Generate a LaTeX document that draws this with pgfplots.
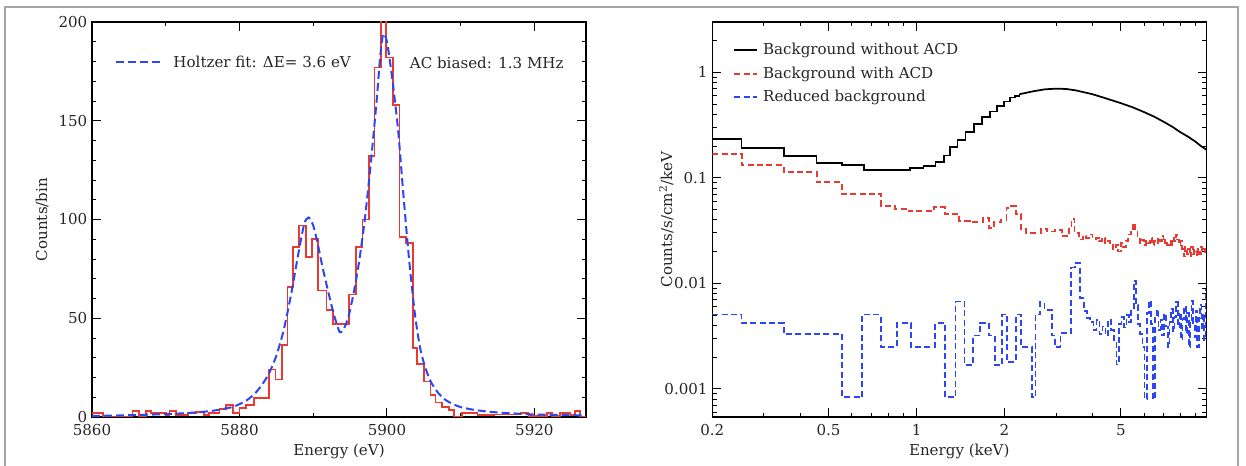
\documentclass[border=0pt]{standalone}
\usepackage{fontspec}
\setmainfont{DejaVu Serif}
\usepackage{pgfplots}
\pgfplotsset{compat=1.18}

\definecolor{histred}{RGB}{232,58,48}
\definecolor{fitblue}{RGB}{45,70,245}
\definecolor{framegray}{RGB}{165,165,165}
\newcommand\ff{\fontsize{11.3}{13.5}\selectfont}

\pgfplotsset{
  panel/.style={
    scale only axis, width=370.5pt, height=296.25pt, anchor=south west,
    tick align=inside, major tick length=6.5pt, minor tick length=3.3pt,
    every tick/.style={black, line width=0.7pt},
    axis line style={line width=0.9pt},
    tick label style={font=\ff, text=black!85},
    label style={font=\ff, text=black!85},
    /pgf/number format/assume math mode=true,
    /pgf/number format/1000 sep={},
    legend style={font=\ff, draw=none, fill=none, inner sep=0pt, text=black!85},
    legend cell align=left,
  }
}

\begin{document}
\begin{tikzpicture}
\path[use as bounding box] (0,0) rectangle (934.5pt,349.5pt);
\draw[framegray, line width=1.5pt] (3.75pt,0pt) -- (3.75pt,344.25pt) -- (928.5pt,344.25pt) -- (928.5pt,0pt);

% left panel: Mn K-alpha line
\begin{axis}[panel, at={(69pt,36.75pt)},
  xmin=5860, xmax=5927, ymin=0, ymax=200,
  xtick={5860,5880,5900,5920}, minor x tick num=1,
  ytick={0,50,100,150,200}, minor y tick num=4,
  xlabel={Energy (eV)}, ylabel={Counts/bin},
  x label style={at={(axis description cs:0.5,-0.087)}, anchor=center},
  y label style={at={(axis description cs:-0.101,0.5)}, anchor=center},
  xticklabel style={yshift=-2pt},
  legend style={at={(0.047,0.8975)}, anchor=west},
  legend image code/.code={\draw[#1] (0pt,0pt) -- (34pt,0pt); \path (40pt,0pt);},
]
\addplot[histred, line width=1.3pt, const plot, forget plot] coordinates {
(5860,2) (5861.5,0.3) (5865.5,3) (5866.4,0.3) (5867.3,3) (5868.0,2) (5870.0,1)
(5870.5,3) (5871.4,1) (5873.0,2) (5874.1,2.5) (5875.2,1) (5875.9,2) (5877.3,4)
(5878.2,6) (5879.1,2) (5880.0,4.5) (5880.9,6) (5882.0,9.5) (5884.0,24) (5884.9,19)
(5885.8,36.5) (5886.5,66) (5887.3,86) (5888.1,97) (5889.0,81) (5889.8,90)
(5890.7,64) (5891.8,54) (5892.7,47) (5894.9,62) (5895.8,86) (5896.7,100)
(5897.6,132) (5898.3,177) (5899.2,215) (5899.9,182) (5900.8,158) (5901.7,91)
(5902.6,88) (5903.5,35) (5904.1,27) (5905.0,18) (5905.9,11) (5906.6,7.4)
(5907.5,5.2) (5908.4,3.5) (5909.1,0.3) (5910.2,2) (5912.3,1) (5914.5,1.3)
(5918.1,2) (5919.2,0.5) (5921.7,2) (5922.4,0.5) (5923.5,2) (5924.9,1)
(5925.5,3) (5926.2,0.3) (5927,0.3)
};
\addplot[fitblue, line width=1.5pt, dash pattern=on 6pt off 3pt, smooth, tension=0.4] coordinates {
(5860,0.5) (5864,0.8) (5868,1.2) (5872,1.8) (5875,2.6) (5877,3.5) (5879,5)
(5880,6.5) (5881,8.5) (5882,11.5) (5883,16) (5884,22) (5885,31) (5886,44)
(5887,62) (5888,83) (5888.8,98) (5889.4,101) (5890,97) (5890.6,88) (5891.2,77)
(5892,64) (5892.8,52) (5893.6,43) (5894.2,45) (5894.8,51) (5895.5,63)
(5896.2,78) (5897,100) (5897.8,128) (5898.6,160) (5899.1,183) (5899.5,194)
(5900,190) (5900.7,172) (5901.5,146) (5902.2,114) (5903,80) (5903.8,52)
(5904.5,35) (5905.2,25) (5906,17.5) (5907,12) (5908,8.5) (5909,6.5) (5910,5)
(5912,3.5) (5915,2.3) (5920,1.3) (5927,0.8)
};
\addlegendentry{Holtzer fit: ΔE= 3.6 eV}
\node[anchor=west, font=\ff, text=black!85] at (rel axis cs:0.634,0.8975) {AC biased: 1.3 MHz};
\end{axis}

% right panel: background spectra
\begin{axis}[panel, at={(534.2pt,36.75pt)},
  xmode=log, ymode=log, xmin=0.2, xmax=9.8, ymin=5.4e-4, ymax=3,
  xtick={0.2,0.5,1,2,5}, xticklabels={0.2,0.5,1,2,5},
  minor xtick={0.3,0.4,0.6,0.7,0.8,0.9,3,4,6,7,8,9},
  ytick={0.001,0.01,0.1,1}, yticklabels={0.001,0.01,0.1,1},
  minor ytick={6e-4,7e-4,8e-4,9e-4,2e-3,3e-3,4e-3,5e-3,6e-3,7e-3,8e-3,9e-3,
    0.02,0.03,0.04,0.05,0.06,0.07,0.08,0.09,0.2,0.3,0.4,0.5,0.6,0.7,0.8,0.9,2,3},
  xlabel={Energy (keV)}, ylabel={Counts/s/cm\textsuperscript{2}/keV},
  x label style={at={(axis description cs:0.5,-0.087)}, anchor=center},
  y label style={at={(axis description cs:-0.093,0.5)}, anchor=center},
  xticklabel style={yshift=-2pt},
  legend style={at={(0.042,0.953)}, anchor=north west, row sep=3.5pt},
  legend image code/.code={\draw[#1] (0pt,0pt) -- (17pt,0pt); \path (19pt,0pt);},
]
\addplot[black, line width=1.3pt, const plot] coordinates {
(0.2,0.235) (0.252,0.193) (0.351,0.162) (0.455,0.138) (0.555,0.132) (0.66,0.118)
(0.95,0.123) (1.056,0.13) (1.16,0.141) (1.24,0.163) (1.30,0.196) (1.38,0.228)
(1.47,0.273) (1.57,0.323) (1.67,0.38) (1.78,0.424) (1.89,0.48) (1.99,0.53)
(2.09,0.577) (2.17,0.60) (2.25,0.62)
};
\addlegendentry{Background without ACD}
\addplot[histred, line width=1.4pt, const plot, dash pattern=on 4.5pt off 2.5pt] coordinates {
(0.2,0.167) (0.252,0.131) (0.351,0.113) (0.455,0.091) (0.554,0.0707) (0.755,0.0545)
(0.845,0.051) (0.94,0.048) (1.148,0.0525) (1.25,0.045) (1.40,0.0392) (1.52,0.038)
(1.69,0.0416) (1.77,0.0334) (1.84,0.038) (1.95,0.040) (2.03,0.052) (2.10,0.054)
(2.19,0.045) (2.28,0.033) (2.37,0.030) (2.67,0.033) (2.79,0.031) (2.97,0.032)
(3.14,0.028) (3.33,0.034) (3.39,0.041) (3.47,0.030)
(3.6,0.026) (3.7,0.028) (3.8,0.027) (3.9,0.029) (4.0,0.026) (4.1,0.027) (4.2,0.025)
(4.3,0.027) (4.4,0.024) (4.5,0.025) (4.6,0.023) (4.7,0.021) (4.8,0.023) (4.9,0.020)
(5.0,0.024) (5.1,0.022) (5.2,0.025) (5.3,0.029) (5.4,0.033) (5.5,0.037) (5.6,0.031)
(5.7,0.027) (5.8,0.024) (5.9,0.026) (6.0,0.023) (6.1,0.025) (6.2,0.024) (6.3,0.027)
(6.4,0.023) (6.5,0.025) (6.6,0.024) (6.7,0.027) (6.8,0.025) (6.9,0.028) (7.0,0.024)
(7.1,0.026) (7.2,0.023) (7.3,0.025) (7.4,0.022) (7.5,0.027) (7.6,0.025) (7.7,0.029)
(7.8,0.026) (7.9,0.023) (8.0,0.025) (8.1,0.021) (8.2,0.018) (8.3,0.022) (8.4,0.019)
(8.5,0.021) (8.6,0.018) (8.7,0.022) (8.8,0.019) (8.9,0.021) (9.0,0.020) (9.1,0.018)
(9.2,0.021) (9.3,0.019) (9.4,0.022) (9.5,0.020) (9.6,0.021) (9.7,0.019) (9.8,0.019)
};
\addlegendentry{Background with ACD}
\addplot[fitblue, line width=1.3pt, const plot, dash pattern=on 4.5pt off 2.5pt] coordinates {
(0.2,0.00505) (0.252,0.0042) (0.352,0.0033) (0.555,0.00083) (0.652,0.00505)
(0.755,0.0025) (0.856,0.0042) (0.957,0.0025) (1.159,0.0042) (1.25,0.00083)
(1.36,0.0067) (1.46,0.00168) (1.56,0.0032) (1.65,0.0042) (1.77,0.0032)
(1.85,0.00168) (1.96,0.00505) (2.04,0.0018) (2.19,0.00505) (2.28,0.0025)
(2.48,0.00083) (2.55,0.00505) (2.65,0.0066) (2.74,0.0056) (2.90,0.0032)
(2.98,0.0025) (3.11,0.0034) (3.38,0.0141) (3.48,0.0155)
(3.63,0.0072) (3.73,0.0055) (3.83,0.0047) (3.93,0.0043) (4.03,0.0036) (4.13,0.0045)
(4.23,0.0033) (4.33,0.0039) (4.43,0.0032) (4.53,0.0045) (4.63,0.0036) (4.73,0.0028)
(4.83,0.0017) (4.93,0.0041) (5.03,0.0048) (5.13,0.0038) (5.23,0.0050) (5.33,0.0043)
(5.43,0.0058) (5.53,0.0105) (5.63,0.0062) (5.73,0.0041) (5.83,0.0033) (5.93,0.0025)
(6.03,0.0008) (6.13,0.0052) (6.23,0.0068) (6.33,0.0041) (6.43,0.0008) (6.53,0.0047)
(6.63,0.0056) (6.73,0.0036) (6.83,0.0045) (6.93,0.0032) (7.03,0.0051) (7.13,0.0039)
(7.23,0.0025) (7.33,0.0043) (7.43,0.0057) (7.53,0.0035) (7.63,0.0048) (7.73,0.0066)
(7.83,0.0038) (7.93,0.0053) (8.03,0.0029) (8.13,0.0046) (8.23,0.0061) (8.33,0.0034)
(8.43,0.0052) (8.53,0.0025) (8.63,0.0045) (8.73,0.0068) (8.83,0.0042) (8.93,0.0031)
(9.03,0.0055) (9.13,0.0025) (9.23,0.0047) (9.33,0.0062) (9.43,0.0036) (9.53,0.0051)
(9.63,0.0029) (9.73,0.0086) (9.8,0.0086)
};
\addlegendentry{Reduced background}
\addplot[black, line width=1.3pt, forget plot] coordinates {
(2.25,0.62) (2.5,0.66) (2.75,0.69) (3.0,0.70) (3.25,0.695) (3.5,0.675) (4.0,0.62)
(4.5,0.56) (5.0,0.51) (5.5,0.465) (6.0,0.42) (6.5,0.38) (7.0,0.34) (7.5,0.305)
(8.0,0.27) (8.5,0.245) (9.0,0.22) (9.4,0.2) (9.8,0.185)
};
\end{axis}
\end{tikzpicture}
\end{document}
